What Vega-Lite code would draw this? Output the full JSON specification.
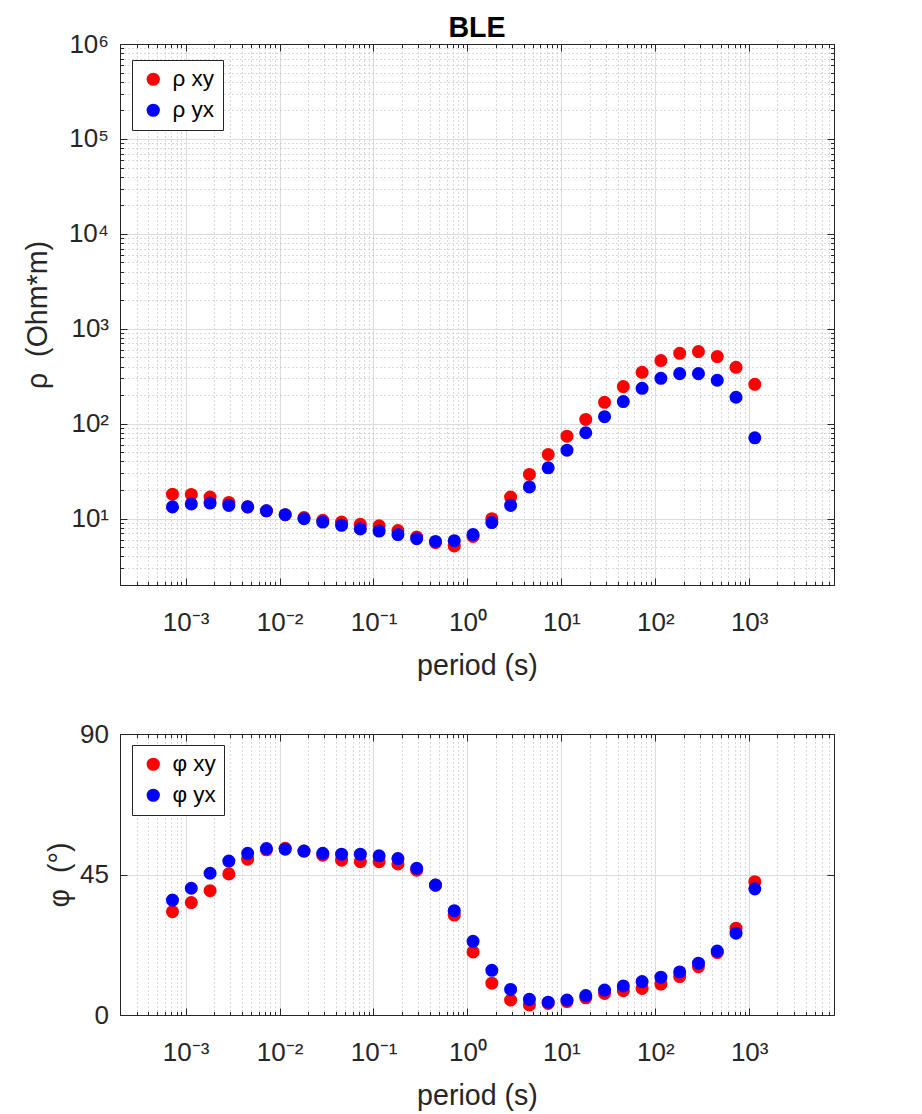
{
  "$schema": "https://vega.github.io/schema/vega-lite/v6.json",
  "background": "white",
  "padding": {"left": 23, "top": 14, "right": 5, "bottom": 2},
  "spacing": 41,
  "resolve": {"scale": {"color": "independent"}, "legend": {"color": "independent"}},
  "config": {
    "view": {"stroke": null},
    "font": "Liberation Sans",
    "axis": {
      "domainColor": "#262626",
      "domainWidth": 1,
      "tickColor": "#262626",
      "tickWidth": 1,
      "labelColor": "#262626",
      "labelFont": "Liberation Sans",
      "labelFontSize": 26,
      "labelFlush": false,
      "labelOverlap": false,
      "titleColor": "#262626",
      "titleFont": "Liberation Sans",
      "titleFontSize": 28.6,
      "titleFontWeight": "normal",
      "gridColor": "#dcdcdc",
      "gridWidth": 1
    },
    "legend": {
      "orient": "none",
      "legendX": 12,
      "strokeColor": "#262626",
      "fillColor": "white",
      "padding": 8,
      "labelFont": "Liberation Sans",
      "labelFontSize": 22.5,
      "labelColor": "#000000",
      "symbolType": "circle",
      "symbolSize": 175,
      "symbolStrokeWidth": 0,
      "symbolOffset": 2,
      "labelOffset": 8,
      "rowPadding": 8
    }
  },
  "datasets": {
    "rho": [
      {"period": 0.000724, "comp": "ρ xy", "rho": 18.1},
      {"period": 0.001148, "comp": "ρ xy", "rho": 18.0},
      {"period": 0.00182, "comp": "ρ xy", "rho": 16.9},
      {"period": 0.002884, "comp": "ρ xy", "rho": 14.8},
      {"period": 0.004571, "comp": "ρ xy", "rho": 13.3},
      {"period": 0.007244, "comp": "ρ xy", "rho": 12.1},
      {"period": 0.01148, "comp": "ρ xy", "rho": 11.0},
      {"period": 0.0182, "comp": "ρ xy", "rho": 10.25},
      {"period": 0.02884, "comp": "ρ xy", "rho": 9.6},
      {"period": 0.04571, "comp": "ρ xy", "rho": 9.2},
      {"period": 0.07244, "comp": "ρ xy", "rho": 8.7},
      {"period": 0.1148, "comp": "ρ xy", "rho": 8.4},
      {"period": 0.182, "comp": "ρ xy", "rho": 7.5},
      {"period": 0.2884, "comp": "ρ xy", "rho": 6.4},
      {"period": 0.4571, "comp": "ρ xy", "rho": 5.6},
      {"period": 0.7244, "comp": "ρ xy", "rho": 5.15},
      {"period": 1.148, "comp": "ρ xy", "rho": 6.5},
      {"period": 1.82, "comp": "ρ xy", "rho": 10.0},
      {"period": 2.884, "comp": "ρ xy", "rho": 16.9},
      {"period": 4.571, "comp": "ρ xy", "rho": 29.2},
      {"period": 7.244, "comp": "ρ xy", "rho": 47.4},
      {"period": 11.48, "comp": "ρ xy", "rho": 73.9},
      {"period": 18.2, "comp": "ρ xy", "rho": 111},
      {"period": 28.84, "comp": "ρ xy", "rho": 168},
      {"period": 45.71, "comp": "ρ xy", "rho": 246},
      {"period": 72.44, "comp": "ρ xy", "rho": 348},
      {"period": 114.8, "comp": "ρ xy", "rho": 463},
      {"period": 182, "comp": "ρ xy", "rho": 552},
      {"period": 288.4, "comp": "ρ xy", "rho": 575},
      {"period": 457.1, "comp": "ρ xy", "rho": 510},
      {"period": 724.4, "comp": "ρ xy", "rho": 393},
      {"period": 1148, "comp": "ρ xy", "rho": 260},
      {"period": 0.000724, "comp": "ρ yx", "rho": 13.3},
      {"period": 0.001148, "comp": "ρ yx", "rho": 14.3},
      {"period": 0.00182, "comp": "ρ yx", "rho": 14.6},
      {"period": 0.002884, "comp": "ρ yx", "rho": 13.8},
      {"period": 0.004571, "comp": "ρ yx", "rho": 13.3},
      {"period": 0.007244, "comp": "ρ yx", "rho": 12.1},
      {"period": 0.01148, "comp": "ρ yx", "rho": 11.0},
      {"period": 0.0182, "comp": "ρ yx", "rho": 10.0},
      {"period": 0.02884, "comp": "ρ yx", "rho": 9.2},
      {"period": 0.04571, "comp": "ρ yx", "rho": 8.5},
      {"period": 0.07244, "comp": "ρ yx", "rho": 7.8},
      {"period": 0.1148, "comp": "ρ yx", "rho": 7.4},
      {"period": 0.182, "comp": "ρ yx", "rho": 6.8},
      {"period": 0.2884, "comp": "ρ yx", "rho": 6.15},
      {"period": 0.4571, "comp": "ρ yx", "rho": 5.75},
      {"period": 0.7244, "comp": "ρ yx", "rho": 5.86},
      {"period": 1.148, "comp": "ρ yx", "rho": 6.8},
      {"period": 1.82, "comp": "ρ yx", "rho": 9.1},
      {"period": 2.884, "comp": "ρ yx", "rho": 13.8},
      {"period": 4.571, "comp": "ρ yx", "rho": 21.6},
      {"period": 7.244, "comp": "ρ yx", "rho": 34.3},
      {"period": 11.48, "comp": "ρ yx", "rho": 52.6},
      {"period": 18.2, "comp": "ρ yx", "rho": 80.3},
      {"period": 28.84, "comp": "ρ yx", "rho": 118.6},
      {"period": 45.71, "comp": "ρ yx", "rho": 171},
      {"period": 72.44, "comp": "ρ yx", "rho": 236},
      {"period": 114.8, "comp": "ρ yx", "rho": 301},
      {"period": 182, "comp": "ρ yx", "rho": 337},
      {"period": 288.4, "comp": "ρ yx", "rho": 337},
      {"period": 457.1, "comp": "ρ yx", "rho": 287},
      {"period": 724.4, "comp": "ρ yx", "rho": 190},
      {"period": 1148, "comp": "ρ yx", "rho": 71.1}
    ],
    "phi": [
      {"period": 0.000724, "comp": "φ xy", "phi": 33.1},
      {"period": 0.001148, "comp": "φ xy", "phi": 36.0},
      {"period": 0.00182, "comp": "φ xy", "phi": 39.8},
      {"period": 0.002884, "comp": "φ xy", "phi": 45.2},
      {"period": 0.004571, "comp": "φ xy", "phi": 49.9},
      {"period": 0.007244, "comp": "φ xy", "phi": 52.9},
      {"period": 0.01148, "comp": "φ xy", "phi": 53.4},
      {"period": 0.0182, "comp": "φ xy", "phi": 52.5},
      {"period": 0.02884, "comp": "φ xy", "phi": 51.2},
      {"period": 0.04571, "comp": "φ xy", "phi": 49.6},
      {"period": 0.07244, "comp": "φ xy", "phi": 49.1},
      {"period": 0.1148, "comp": "φ xy", "phi": 49.1},
      {"period": 0.182, "comp": "φ xy", "phi": 48.4},
      {"period": 0.2884, "comp": "φ xy", "phi": 46.4},
      {"period": 0.4571, "comp": "φ xy", "phi": 41.6},
      {"period": 0.7244, "comp": "φ xy", "phi": 32.0},
      {"period": 1.148, "comp": "φ xy", "phi": 20.2},
      {"period": 1.82, "comp": "φ xy", "phi": 10.2},
      {"period": 2.884, "comp": "φ xy", "phi": 4.8},
      {"period": 4.571, "comp": "φ xy", "phi": 3.2},
      {"period": 7.244, "comp": "φ xy", "phi": 3.7},
      {"period": 11.48, "comp": "φ xy", "phi": 4.3},
      {"period": 18.2, "comp": "φ xy", "phi": 5.5},
      {"period": 28.84, "comp": "φ xy", "phi": 6.9},
      {"period": 45.71, "comp": "φ xy", "phi": 7.8},
      {"period": 72.44, "comp": "φ xy", "phi": 8.5},
      {"period": 114.8, "comp": "φ xy", "phi": 9.9},
      {"period": 182, "comp": "φ xy", "phi": 12.3},
      {"period": 288.4, "comp": "φ xy", "phi": 15.5},
      {"period": 457.1, "comp": "φ xy", "phi": 20.0},
      {"period": 724.4, "comp": "φ xy", "phi": 27.8},
      {"period": 1148, "comp": "φ xy", "phi": 42.7},
      {"period": 0.000724, "comp": "φ yx", "phi": 36.8},
      {"period": 0.001148, "comp": "φ yx", "phi": 40.6},
      {"period": 0.00182, "comp": "φ yx", "phi": 45.4},
      {"period": 0.002884, "comp": "φ yx", "phi": 49.3},
      {"period": 0.004571, "comp": "φ yx", "phi": 51.8},
      {"period": 0.007244, "comp": "φ yx", "phi": 53.3},
      {"period": 0.01148, "comp": "φ yx", "phi": 53.1},
      {"period": 0.0182, "comp": "φ yx", "phi": 52.5},
      {"period": 0.02884, "comp": "φ yx", "phi": 51.8},
      {"period": 0.04571, "comp": "φ yx", "phi": 51.5},
      {"period": 0.07244, "comp": "φ yx", "phi": 51.5},
      {"period": 0.1148, "comp": "φ yx", "phi": 51.0},
      {"period": 0.182, "comp": "φ yx", "phi": 50.1},
      {"period": 0.2884, "comp": "φ yx", "phi": 47.0},
      {"period": 0.4571, "comp": "φ yx", "phi": 41.6},
      {"period": 0.7244, "comp": "φ yx", "phi": 33.4},
      {"period": 1.148, "comp": "φ yx", "phi": 23.6},
      {"period": 1.82, "comp": "φ yx", "phi": 14.3},
      {"period": 2.884, "comp": "φ yx", "phi": 8.2},
      {"period": 4.571, "comp": "φ yx", "phi": 5.0},
      {"period": 7.244, "comp": "φ yx", "phi": 4.1},
      {"period": 11.48, "comp": "φ yx", "phi": 4.8},
      {"period": 18.2, "comp": "φ yx", "phi": 6.2},
      {"period": 28.84, "comp": "φ yx", "phi": 8.0},
      {"period": 45.71, "comp": "φ yx", "phi": 9.3},
      {"period": 72.44, "comp": "φ yx", "phi": 10.7},
      {"period": 114.8, "comp": "φ yx", "phi": 12.1},
      {"period": 182, "comp": "φ yx", "phi": 13.8},
      {"period": 288.4, "comp": "φ yx", "phi": 16.6},
      {"period": 457.1, "comp": "φ yx", "phi": 20.5},
      {"period": 724.4, "comp": "φ yx", "phi": 26.2},
      {"period": 1148, "comp": "φ yx", "phi": 40.4}
    ]
  },
  "vconcat": [
    {
      "title": {"text": "BLE", "fontSize": 28.6, "fontWeight": "bold", "color": "#000000", "font": "Liberation Sans", "frame": "group", "offset": -12},
      "width": 714,
      "height": 541,
      "data": {"name": "rho"},
      "resolve": {"axis": {"x": "independent", "y": "independent"}},
      "layer": [
        {
          "mark": {"type": "point", "filled": true, "opacity": 1, "size": 170},
          "encoding": {
            "x": {
              "field": "period", "type": "quantitative",
              "scale": {"type": "log", "domain": [0.0002, 8000], "nice": false},
              "axis": {
                "orient": "bottom", "title": "period (s)",
                "values": [0.001, 0.01, 0.1, 1, 10, 100, 1000],
                "labelExpr": "'10' + ['⁻³','⁻²','⁻¹','⁰','¹','²','³'][round(log(datum.value)/LN10)+3]",
                "labelBaseline": "alphabetic",
                "tickSize": -7, "labelPadding": 52, "titlePadding": 16, "grid": true
              }
            },
            "y": {
              "field": "rho", "type": "quantitative",
              "scale": {"type": "log", "domain": [2, 1000000], "nice": false},
              "axis": {
                "orient": "left", "title": "ρ\u00a0\u00a0(Ohm*m)",
                "values": [10, 100, 1000, 10000, 100000, 1000000],
                "labelExpr": "'10' + ['⁰','¹','²','³','⁴','⁵','⁶'][round(log(datum.value)/LN10)]",
                "tickSize": -7, "labelPadding": 18.5, "titlePadding": 16, "grid": true
              }
            },
            "color": {
              "field": "comp", "type": "nominal",
              "scale": {"domain": ["ρ xy", "ρ yx"], "range": ["#ff0000", "#0000ff"]},
              "legend": {"title": null, "legendY": 16}
            }
          }
        },
        {
          "mark": {"type": "point", "opacity": 0},
          "encoding": {
            "x": {
              "field": "period", "type": "quantitative",
              "axis": {
                "orient": "bottom", "title": null, "labels": false, "domain": false,
                "values": [0.0002,0.0003,0.0004,0.0005,0.0006,0.0007,0.0008,0.0009,0.002,0.003,0.004,0.005,0.006,0.007,0.008,0.009,0.02,0.03,0.04,0.05,0.06,0.07,0.08,0.09,0.2,0.3,0.4,0.5,0.6,0.7,0.8,0.9,2,3,4,5,6,7,8,9,20,30,40,50,60,70,80,90,200,300,400,500,600,700,800,900,2000,3000,4000,5000,6000,7000,8000],
                "tickSize": -3.5, "grid": true, "gridDash": [1, 3], "gridColor": "#b4b4b4"
              }
            },
            "y": {
              "field": "rho", "type": "quantitative",
              "axis": {
                "orient": "left", "title": null, "labels": false, "domain": false,
                "values": [2,3,4,5,6,7,8,9,20,30,40,50,60,70,80,90,200,300,400,500,600,700,800,900,2000,3000,4000,5000,6000,7000,8000,9000,20000,30000,40000,50000,60000,70000,80000,90000,200000,300000,400000,500000,600000,700000,800000,900000],
                "tickSize": -3.5, "grid": true, "gridDash": [1, 3], "gridColor": "#b4b4b4"
              }
            }
          }
        },
        {
          "mark": {"type": "point", "opacity": 0},
          "encoding": {
            "x": {
              "field": "period", "type": "quantitative",
              "axis": {"orient": "top", "title": null, "labels": false, "grid": false, "values": [0.001, 0.01, 0.1, 1, 10, 100, 1000], "tickSize": -7}
            },
            "y": {
              "field": "rho", "type": "quantitative",
              "axis": {"orient": "right", "title": null, "labels": false, "grid": false, "values": [10, 100, 1000, 10000, 100000, 1000000], "tickSize": -7}
            }
          }
        },
        {
          "mark": {"type": "point", "opacity": 0},
          "encoding": {
            "x": {
              "field": "period", "type": "quantitative",
              "axis": {
                "orient": "top", "title": null, "labels": false, "grid": false, "domain": false,
                "values": [0.0002,0.0003,0.0004,0.0005,0.0006,0.0007,0.0008,0.0009,0.002,0.003,0.004,0.005,0.006,0.007,0.008,0.009,0.02,0.03,0.04,0.05,0.06,0.07,0.08,0.09,0.2,0.3,0.4,0.5,0.6,0.7,0.8,0.9,2,3,4,5,6,7,8,9,20,30,40,50,60,70,80,90,200,300,400,500,600,700,800,900,2000,3000,4000,5000,6000,7000,8000],
                "tickSize": -3.5
              }
            },
            "y": {
              "field": "rho", "type": "quantitative",
              "axis": {
                "orient": "right", "title": null, "labels": false, "grid": false, "domain": false,
                "values": [2,3,4,5,6,7,8,9,20,30,40,50,60,70,80,90,200,300,400,500,600,700,800,900,2000,3000,4000,5000,6000,7000,8000,9000,20000,30000,40000,50000,60000,70000,80000,90000,200000,300000,400000,500000,600000,700000,800000,900000],
                "tickSize": -3.5
              }
            }
          }
        }
      ]
    },
    {
      "width": 714,
      "height": 281,
      "data": {"name": "phi"},
      "resolve": {"axis": {"x": "independent", "y": "independent"}},
      "layer": [
        {
          "mark": {"type": "point", "filled": true, "opacity": 1, "size": 170},
          "encoding": {
            "x": {
              "field": "period", "type": "quantitative",
              "scale": {"type": "log", "domain": [0.0002, 8000], "nice": false},
              "axis": {
                "orient": "bottom", "title": "period (s)",
                "values": [0.001, 0.01, 0.1, 1, 10, 100, 1000],
                "labelExpr": "'10' + ['⁻³','⁻²','⁻¹','⁰','¹','²','³'][round(log(datum.value)/LN10)+3]",
                "labelBaseline": "alphabetic",
                "tickSize": -7, "labelPadding": 52, "titlePadding": 16, "grid": true
              }
            },
            "y": {
              "field": "phi", "type": "quantitative",
              "scale": {"domain": [0, 90], "nice": false},
              "axis": {
                "orient": "left", "title": "φ\u00a0\u00a0(°)",
                "values": [0, 45, 90],
                "tickSize": -7, "labelPadding": 18.5, "titlePadding": 5, "grid": true
              }
            },
            "color": {
              "field": "comp", "type": "nominal",
              "scale": {"domain": ["φ xy", "φ yx"], "range": ["#ff0000", "#0000ff"]},
              "legend": {"title": null, "legendY": 11}
            }
          }
        },
        {
          "mark": {"type": "point", "opacity": 0},
          "encoding": {
            "x": {
              "field": "period", "type": "quantitative",
              "axis": {
                "orient": "bottom", "title": null, "labels": false, "domain": false,
                "values": [0.0002,0.0003,0.0004,0.0005,0.0006,0.0007,0.0008,0.0009,0.002,0.003,0.004,0.005,0.006,0.007,0.008,0.009,0.02,0.03,0.04,0.05,0.06,0.07,0.08,0.09,0.2,0.3,0.4,0.5,0.6,0.7,0.8,0.9,2,3,4,5,6,7,8,9,20,30,40,50,60,70,80,90,200,300,400,500,600,700,800,900,2000,3000,4000,5000,6000,7000,8000],
                "tickSize": -3.5, "grid": true, "gridDash": [1, 3], "gridColor": "#b4b4b4"
              }
            },
            "y": {"field": "phi", "type": "quantitative", "axis": null}
          }
        },
        {
          "mark": {"type": "point", "opacity": 0},
          "encoding": {
            "x": {
              "field": "period", "type": "quantitative",
              "axis": {"orient": "top", "title": null, "labels": false, "grid": false, "values": [0.001, 0.01, 0.1, 1, 10, 100, 1000], "tickSize": -7}
            },
            "y": {
              "field": "phi", "type": "quantitative",
              "axis": {"orient": "right", "title": null, "labels": false, "grid": false, "values": [0, 45, 90], "tickSize": -7}
            }
          }
        },
        {
          "mark": {"type": "point", "opacity": 0},
          "encoding": {
            "x": {
              "field": "period", "type": "quantitative",
              "axis": {
                "orient": "top", "title": null, "labels": false, "grid": false, "domain": false,
                "values": [0.0002,0.0003,0.0004,0.0005,0.0006,0.0007,0.0008,0.0009,0.002,0.003,0.004,0.005,0.006,0.007,0.008,0.009,0.02,0.03,0.04,0.05,0.06,0.07,0.08,0.09,0.2,0.3,0.4,0.5,0.6,0.7,0.8,0.9,2,3,4,5,6,7,8,9,20,30,40,50,60,70,80,90,200,300,400,500,600,700,800,900,2000,3000,4000,5000,6000,7000,8000],
                "tickSize": -3.5
              }
            },
            "y": {"field": "phi", "type": "quantitative", "axis": null}
          }
        }
      ]
    }
  ]
}
